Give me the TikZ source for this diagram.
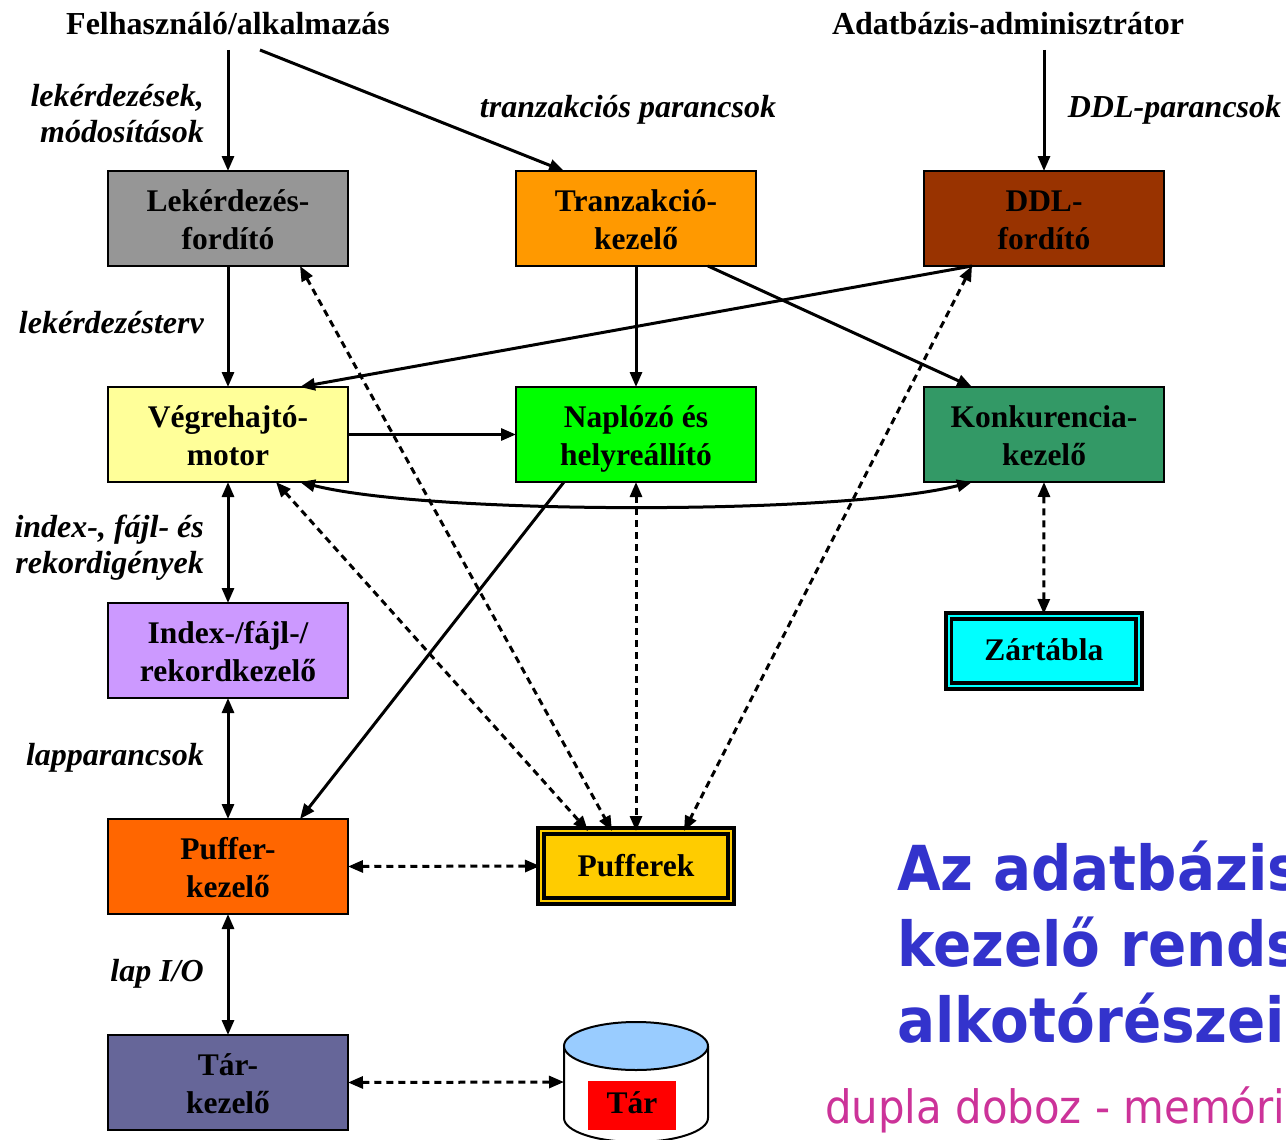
\documentclass[tikz,border=0pt]{standalone}
\usepackage{fontspec}
\setmainfont{Liberation Serif}
\newfontfamily\titlefont[FakeStretch=0.91]{DejaVu Sans}
\newfontfamily\subfont[FakeStretch=0.91]{DejaVu Sans}
\usetikzlibrary{arrows.meta}
\newcommand{\toplineskip}{\rule{0pt}{35pt}}
\tikzset{
  x=1pt,y=-1pt,
  box/.style={draw=black,line width=2pt,minimum width=240pt,minimum height=95pt,outer sep=0pt,inner sep=0pt,align=center,
    font=\fontsize{31.5}{37.5}\selectfont\bfseries},
  actor/.style={font=\fontsize{32}{34}\selectfont\bfseries,minimum height=52pt,inner sep=0pt,outer sep=0pt},
  lbl/.style={font=\fontsize{32}{36.5}\selectfont\bfseries\itshape,inner sep=0pt,align=right,anchor=east},
  lbll/.style={font=\fontsize{32}{36}\selectfont\bfseries\itshape,inner sep=0pt},
  store/.style={draw=black,line width=4pt,outer sep=0pt,inner sep=0pt,font=\fontsize{31.5}{37}\selectfont\bfseries},
  inner/.style={draw=black,line width=3.5pt},
  flow/.style={line width=3pt,-{Triangle[length=15pt,width=12pt]}},
  biflow/.style={line width=3pt,{Triangle[length=15pt,width=12pt]}-{Triangle[length=15pt,width=12pt]}},
  dbl/.style={biflow,dash pattern=on 7pt off 5pt},
}
\begin{document}
\begin{tikzpicture}
\useasboundingbox (0,0) rectangle (1286,1140);
\clip (0,0) rectangle (1286,1140);

\node[actor] (user) at (228,24) {Felhasználó/alkalmazás};
\node[actor] (admin) at (1008,24) {Adatbázis-adminisztrátor};

\node[box,fill={rgb,255:red,150;green,150;blue,150}] (lek) at (228,218.5) {\toplineskip Lekérdezés-\\\strut fordító};
\node[box,fill={rgb,255:red,255;green,153;blue,0}] (tran) at (636,218.5) {\toplineskip Tranzakció-\\\strut kezelő};
\node[box,fill={rgb,255:red,153;green,51;blue,0}] (ddl) at (1044,218.5) {\toplineskip DDL-\\\strut fordító};
\node[box,fill={rgb,255:red,255;green,255;blue,153}] (veg) at (228,434.5) {\toplineskip Végrehajtó-\\\strut motor};
\node[box,fill={rgb,255:red,0;green,255;blue,0}] (nap) at (636,434.5) {\toplineskip Naplózó és\\\strut helyreállító};
\node[box,fill={rgb,255:red,51;green,153;blue,102}] (kon) at (1044,434.5) {\toplineskip Konkurencia-\\\strut kezelő};
\node[box,fill={rgb,255:red,204;green,153;blue,255}] (idx) at (228,650.5) {\toplineskip Index-/fájl-/\\\strut rekordkezelő};
\node[box,fill={rgb,255:red,255;green,102;blue,0}] (pk) at (228,866.5) {\toplineskip Puffer-\\\strut kezelő};
\node[box,fill={rgb,255:red,102;green,102;blue,153}] (tk) at (228,1082.5) {\toplineskip Tár-\\\strut kezelő};

\node[store,fill={rgb,255:red,0;green,255;blue,255},minimum width=196.5pt,minimum height=76pt] (zar) at (1043.75,651) {\raisebox{3pt}{Zártábla}};
\draw[inner] ([xshift=6pt,yshift=-6pt]zar.north west) rectangle ([xshift=-6pt,yshift=6pt]zar.south east);
\node[store,fill={rgb,255:red,255;green,204;blue,0},minimum width=196pt,minimum height=76pt] (puf) at (636,866) {\raisebox{2pt}{Pufferek}};
\draw[inner] ([xshift=6pt,yshift=-6pt]puf.north west) rectangle ([xshift=-6pt,yshift=6pt]puf.south east);

% disk
\node[minimum width=144pt,minimum height=10pt,inner sep=0pt,outer sep=0pt] (disk) at (636,1082) {};
\draw[line width=2pt,fill=white] (564,1046) -- (564,1118) arc[start angle=180,end angle=360,x radius=72,y radius=-24] -- (708,1046);
\draw[line width=2pt,fill={rgb,255:red,153;green,204;blue,255}] (636,1046) ellipse[x radius=72,y radius=24];
\node[fill=red,minimum width=88pt,minimum height=49pt,inner sep=0pt,font=\fontsize{31.5}{37}\selectfont\bfseries] (tar) at (632,1105.5) {\raisebox{5pt}{Tár}};

\node[lbl] (l1) at (204,113.5) {lekérdezések,\\módosítások};
\node[lbll] (l2) at (628,110) {tranzakciós parancsok};
\node[lbll] (l3) at (1174.5,110) {DDL-parancsok};
\node[lbl] (l4) at (204,323) {lekérdezésterv};
\node[lbl] (l5) at (204,547.5) {index-, fájl- és\\rekordigények};
\node[lbl] (l6) at (204,758) {lapparancsok};
\node[lbl] (l7) at (204,974) {lap I/O};

\draw[flow] (user.south) -- (lek.north);
\draw[flow] ([xshift=32pt]user.south) -- ([xshift=-72pt]tran.north);
\draw[flow] ([xshift=36pt]admin.south) -- (ddl.north);
\draw[flow] (lek.south) -- (veg.north);
\draw[flow] (tran.south) -- (nap.north);
\draw[flow] ([xshift=72pt]tran.south) -- ([xshift=-72pt]kon.north);
\draw[flow] ([xshift=-72pt]ddl.south) -- ([xshift=72pt]veg.north);
\draw[flow] (veg.east) -- (nap.west);
\draw[flow] ([xshift=-72pt]nap.south) -- ([xshift=72pt]pk.north);
\draw[biflow] ([xshift=72pt]veg.south) .. controls (430,515) and (843,515) .. ([xshift=-72pt]kon.south);
\draw[biflow] (veg.south) -- (idx.north);
\draw[biflow] (idx.south) -- (pk.north);
\draw[biflow] (pk.south) -- (tk.north);

\draw[dbl] ([xshift=72pt]lek.south) -- ([xshift=-24pt,yshift=-3pt]puf.north);
\draw[dbl] ([xshift=48pt]veg.south) -- ([xshift=-48pt,yshift=-3pt]puf.north);
\draw[dbl] (nap.south) -- ([yshift=-3pt]puf.north);
\draw[dbl] ([xshift=-72pt]ddl.south) -- ([xshift=48pt,yshift=-3pt]puf.north);
\draw[dbl] (kon.south) -- ([yshift=-1pt]zar.north);
\draw[dbl] (pk.east) -- ([xshift=2pt]puf.west);
\draw[dbl] (tk.east) -- (disk.west);

\node[anchor=west,inner sep=0pt,align=left,text={rgb,255:red,51;green,51;blue,204},font=\titlefont\fontsize{62}{76}\selectfont\bfseries] (title) at (897,942) {Az adatbázis\\kezelő rendszer\\alkotórészei};
\node[anchor=west,inner sep=0pt,text={rgb,255:red,204;green,51;blue,153},font=\subfont\fontsize{46}{54}\selectfont] (sub) at (825,1110) {dupla doboz - memória};
\end{tikzpicture}
\end{document}
